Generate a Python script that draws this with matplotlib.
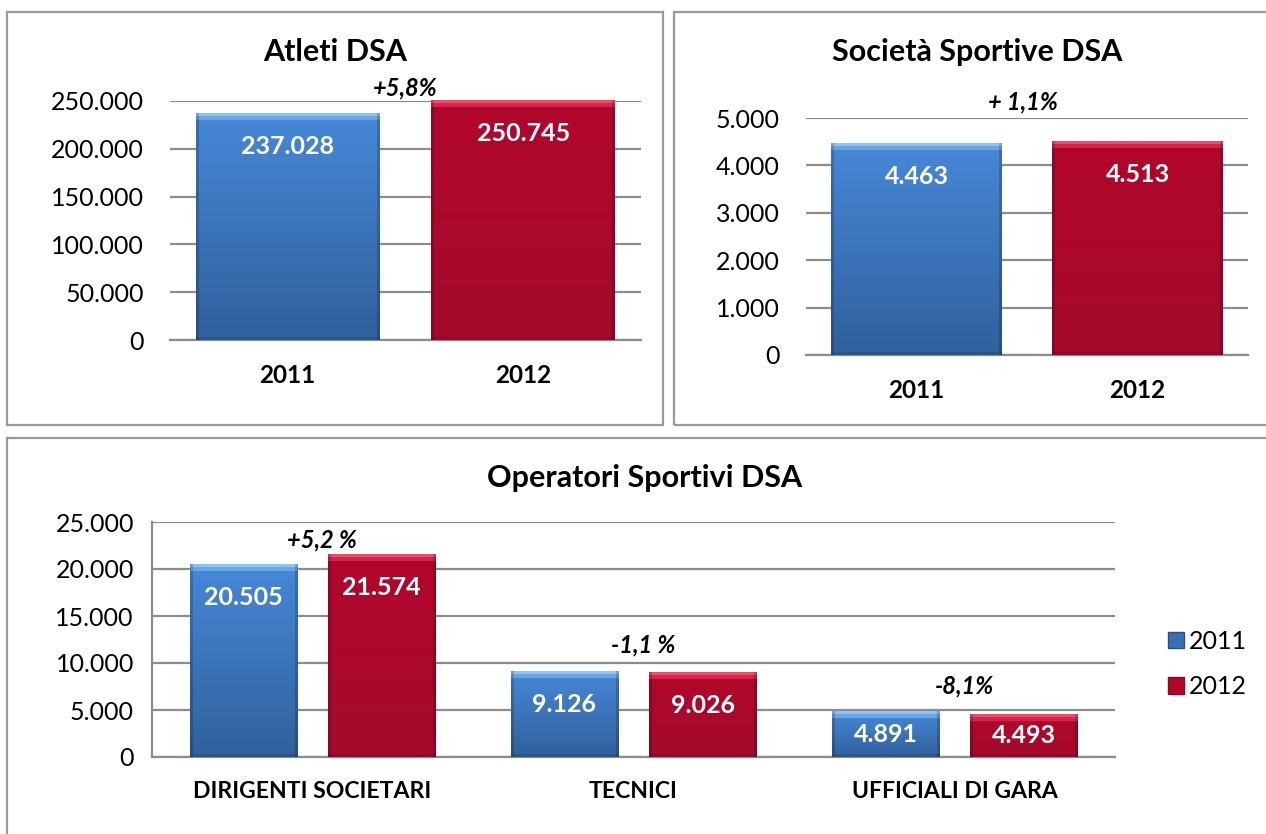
import numpy as np
import matplotlib
matplotlib.use("Agg")
import matplotlib.pyplot as plt
from matplotlib.patches import Rectangle, Patch
from matplotlib.colors import to_rgb

plt.rcParams['font.family'] = ['Lato', 'DejaVu Sans']

# dati
anni = ['2011', '2012']
atleti = [237028, 250745]
societa = [4463, 4513]
categorie = ['DIRIGENTI SOCIETARI', 'TECNICI', 'UFFICIALI DI GARA']
operatori_2011 = [20505, 9126, 4891]
operatori_2012 = [21574, 9026, 4493]
var_atleti = '+5,8%'
var_societa = '+ 1,1%'
var_operatori = ['+5,2 %', '-1,1 %', '-8,1%']
# altezza (in unità dei dati) delle etichette di variazione
y_var_atleti = 263500
y_var_societa = 5330
y_var_operatori = [23100, 11900, 7550]

W, H = 1266, 834
fig = plt.figure(figsize=(W / 100, H / 100), dpi=100)
GRID = '#8c8c8c'

BLU = dict(hi='#8cc4f5', top='#4788d8', bot='#30609c', base='#3a6fb5')
ROSSO = dict(hi='#f8476a', top='#b2062c', bot='#a50a2c', base='#b0062a')


def px(x, y, w, h):
    # rettangolo in pixel (origine in alto a sinistra) -> frazioni figura
    return [x / W, (H - y - h) / H, w / W, h / H]


def prepara(ax, top, step, fmt):
    ax.set_ylim(0, top)
    ax.set_yticks(np.arange(0, top + 1, step))
    ax.set_yticklabels([fmt(v) for v in np.arange(0, top + 1, step)])
    ax.grid(axis='y', color=GRID, linewidth=1.6, zorder=0)
    ax.set_axisbelow(True)
    for s in ['top', 'right', 'left']:
        ax.spines[s].set_visible(False)
    ax.spines['bottom'].set_color(GRID)
    ax.spines['bottom'].set_linewidth(1.6)
    ax.tick_params(axis='y', length=0, pad=19, labelsize=18)
    ax.tick_params(axis='x', length=0, pad=17, labelsize=17.5)
    ax.set_autoscale_on(False)


def sfuma(ax, bars, pal):
    hi, top, bot = [np.array(to_rgb(pal[k])) for k in ('hi', 'top', 'bot')]
    for b in bars:
        x, w, h = b.get_x(), b.get_width(), b.get_height()
        x0, y0 = ax.transData.transform((x, 0))
        x1, y1 = ax.transData.transform((x + w, h))
        nh = max(int(round(y1 - y0)), 4)
        nw = max(int(round(x1 - x0)), 4)
        t = np.linspace(0, 1, nh)[:, None, None]
        img = top * (1 - t) + bot * t
        img = np.repeat(img, nw, axis=1)
        img[:3] = hi
        img[3:7] = 0.5 * hi + 0.5 * top
        img[:, :3] *= 0.82
        img[:, -3:] *= 0.82
        img[-3:] *= 0.9
        ax.imshow(np.clip(img, 0, 1), extent=(x, x + w, 0, h), aspect='auto',
                  origin='upper', interpolation='bilinear', zorder=3, clip_on=False)


def etichette(ax, bars, valori):
    for b, v in zip(bars, valori):
        hpx = ax.transData.transform((0, v))[1] - ax.transData.transform((0, 0))[1]
        off = min(33, hpx / 2)
        ax.annotate(f'{v:,}'.replace(',', '.'), (b.get_x() + b.get_width() / 2, v),
                    xytext=(0, -off * 0.72), textcoords='offset points',
                    ha='center', va='center', color='white', fontsize=18,
                    fontweight='bold', zorder=5, annotation_clip=False)


fmt = lambda v: f'{int(v):,}'.replace(',', '.')

# cornici dei pannelli
for r in [(7, 12, 656, 413), (674, 12, 620, 413), (7, 438, 1290, 420)]:
    x, y, w, h = r
    fig.add_artist(Rectangle((x / W, (H - y - h) / H), w / W, h / H, transform=fig.transFigure,
                             fill=False, edgecolor='#999999', linewidth=1.6))

# --- Atleti DSA
ax1 = fig.add_axes(px(170, 101, 471, 239))
prepara(ax1, 250000, 50000, fmt)
ax1.set_xlim(-0.5, 1.5)
ax1.set_xticks(range(2))
ax1.set_xticklabels(anni, fontweight='bold')
b1 = ax1.bar(range(2), atleti, width=0.78, color=[BLU['base'], ROSSO['base']], zorder=2, clip_on=False)
sfuma(ax1, [b1[0]], BLU)
sfuma(ax1, [b1[1]], ROSSO)
etichette(ax1, b1, atleti)
ax1.text(0.5, y_var_atleti, var_atleti, ha='center', va='center', fontsize=17,
         fontweight='bold', style='italic', zorder=6)
fig.text(335 / W, 1 - 52 / H, 'Atleti DSA', ha='center', va='center', fontsize=22, fontweight='bold')

# --- Società Sportive DSA
ax2 = fig.add_axes(px(806, 118, 442, 237))
prepara(ax2, 5000, 1000, fmt)
ax2.set_xlim(-0.5, 1.5)
ax2.set_xticks(range(2))
ax2.set_xticklabels(anni, fontweight='bold')
b2 = ax2.bar(range(2), societa, width=0.77, color=[BLU['base'], ROSSO['base']], zorder=2)
sfuma(ax2, [b2[0]], BLU)
sfuma(ax2, [b2[1]], ROSSO)
etichette(ax2, b2, societa)
ax2.text(0.48, y_var_societa, var_societa, ha='center', va='center', fontsize=17,
         fontweight='bold', style='italic', zorder=6)
fig.text(977 / W, 1 - 52 / H, 'Società Sportive DSA', ha='center', va='center', fontsize=22, fontweight='bold')

# --- Operatori Sportivi DSA
ax3 = fig.add_axes(px(152, 522, 963, 235))
prepara(ax3, 25000, 5000, fmt)
ax3.spines['left'].set_visible(True)
ax3.spines['left'].set_color(GRID)
ax3.spines['left'].set_linewidth(1.6)
ax3.tick_params(axis='y', pad=13)
ax3.set_xlim(-0.5, 2.5)
x = np.arange(len(categorie))
ax3.set_xticks(x)
ax3.set_xticklabels(categorie, fontweight='bold', fontsize=16.6)
b3a = ax3.bar(x - 0.215, operatori_2011, width=0.335, color=BLU['base'], zorder=2, label='2011')
b3b = ax3.bar(x + 0.215, operatori_2012, width=0.335, color=ROSSO['base'], zorder=2, label='2012')
sfuma(ax3, b3a, BLU)
sfuma(ax3, b3b, ROSSO)
etichette(ax3, b3a, operatori_2011)
etichette(ax3, b3b, operatori_2012)
for i, (t, yv) in enumerate(zip(var_operatori, y_var_operatori)):
    ax3.text(i + 0.03, yv, t, ha='center', va='center', fontsize=17,
             fontweight='bold', style='italic', zorder=6)
fig.text(645 / W, 1 - 478 / H, 'Operatori Sportivi DSA', ha='center', va='center', fontsize=22, fontweight='bold')

handles = [Patch(facecolor=BLU['base'], edgecolor='#2a4f80'), Patch(facecolor=ROSSO['base'], edgecolor='#8a0a24')]
fig.legend(handles, anni, loc='center left', bbox_to_anchor=(1168 / W, 1 - 664 / H), frameon=False,
           fontsize=18, handlelength=0.65, handleheight=0.65, handletextpad=0.2, labelspacing=0.9,
           borderaxespad=0, borderpad=0)

fig.savefig('out.png', dpi=100)
